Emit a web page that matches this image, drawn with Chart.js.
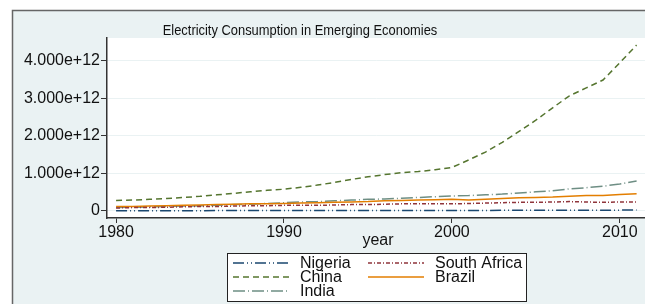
<!DOCTYPE html>
<html>
<head>
<meta charset="utf-8">
<script src="https://cdn.jsdelivr.net/npm/chart.js@4.4.1/dist/chart.umd.min.js"></script>
<style>
html,body{margin:0;padding:0;background:#fff;}
#wrap{width:645px;height:304px;position:relative;}
</style>
</head>
<body>
<div id="wrap"><canvas id="c" width="645" height="304"></canvas></div>
<script>
const years = [1980,1981,1982,1983,1984,1985,1986,1987,1988,1989,1990,1991,1992,1993,1994,1995,1996,1997,1998,1999,2000,2001,2002,2003,2004,2005,2006,2007,2008,2009,2010,2011];
const nigeria = [0.007e12,0.008e12,0.008e12,0.008e12,0.009e12,0.009e12,0.010e12,0.010e12,0.011e12,0.011e12,0.011e12,0.012e12,0.012e12,0.012e12,0.012e12,0.012e12,0.012e12,0.012e12,0.012e12,0.012e12,0.013e12,0.013e12,0.015e12,0.017e12,0.018e12,0.019e12,0.020e12,0.020e12,0.019e12,0.019e12,0.023e12,0.024e12];
const southAfrica = [0.08e12,0.09e12,0.09e12,0.10e12,0.11e12,0.12e12,0.12e12,0.13e12,0.14e12,0.14e12,0.15e12,0.15e12,0.15e12,0.16e12,0.17e12,0.17e12,0.18e12,0.19e12,0.19e12,0.19e12,0.19e12,0.20e12,0.21e12,0.22e12,0.23e12,0.23e12,0.24e12,0.25e12,0.24e12,0.23e12,0.24e12,0.24e12];
const china = [0.28e12,0.29e12,0.31e12,0.33e12,0.36e12,0.39e12,0.43e12,0.47e12,0.51e12,0.55e12,0.58e12,0.63e12,0.69e12,0.76e12,0.84e12,0.91e12,0.97e12,1.02e12,1.05e12,1.10e12,1.16e12,1.36e12,1.57e12,1.83e12,2.12e12,2.42e12,2.75e12,3.07e12,3.28e12,3.49e12,3.95e12,4.42e12];
const brazil = [0.12e12,0.12e12,0.13e12,0.14e12,0.15e12,0.16e12,0.17e12,0.18e12,0.19e12,0.19e12,0.20e12,0.21e12,0.22e12,0.23e12,0.24e12,0.25e12,0.27e12,0.28e12,0.29e12,0.30e12,0.31e12,0.29e12,0.31e12,0.33e12,0.35e12,0.36e12,0.37e12,0.39e12,0.41e12,0.41e12,0.44e12,0.46e12];
const india = [0.09e12,0.10e12,0.11e12,0.12e12,0.13e12,0.14e12,0.15e12,0.17e12,0.18e12,0.20e12,0.22e12,0.24e12,0.25e12,0.27e12,0.29e12,0.31e12,0.32e12,0.34e12,0.36e12,0.38e12,0.40e12,0.41e12,0.43e12,0.45e12,0.48e12,0.51e12,0.54e12,0.59e12,0.62e12,0.66e12,0.72e12,0.80e12];
const yTicks = [0,1e12,2e12,3e12,4e12];
const xTicks = [1980,1990,2000,2010];
const titleText = "Electricity Consumption in Emerging Economies";
const xTitle = "year";

const series = [
  {label:"Nigeria", data:nigeria, color:"rgb(26,71,111)", dash:[11,3,1,3,1,3]},
  {label:"South Africa", data:southAfrica, color:"rgb(144,53,59)", dash:[4,2,1,2]},
  {label:"China", data:china, color:"rgb(85,117,47)", dash:[6,4]},
  {label:"Brazil", data:brazil, color:"rgb(227,126,0)", dash:[]},
  {label:"India", data:india, color:"rgb(110,142,132)", dash:[12,3,1,3]}
];
const FONT = "'Liberation Sans', Arial, sans-serif";

const bgPlugin = {
  id:'bg',
  beforeDraw(chart){
    const ctx = chart.ctx, a = chart.chartArea;
    ctx.save();
    ctx.fillStyle = '#fff';
    ctx.fillRect(0,0,chart.width,chart.height);
    ctx.fillStyle = 'rgb(234,242,243)';
    ctx.fillRect(12,10,chart.width-12,chart.height-10);
    ctx.strokeStyle = '#666';
    ctx.lineWidth = 1.5;
    ctx.beginPath();
    ctx.moveTo(12.5,chart.height);
    ctx.lineTo(12.5,10.5);
    ctx.lineTo(chart.width,10.5);
    ctx.stroke();
    ctx.fillStyle = '#fff';
    ctx.fillRect(a.left,a.top,a.right-a.left,a.bottom-a.top);
    ctx.fillStyle = '#111';
    ctx.font = "16px " + FONT;
    ctx.textAlign = 'center';
    ctx.textBaseline = 'alphabetic';
    ctx.fillText(xTitle, 378, 245);
    ctx.save();
    ctx.translate(300, 35);
    ctx.scale(0.86, 1);
    ctx.font = "15px " + FONT;
    ctx.fillText(titleText, 0, 0);
    ctx.restore();
    ctx.restore();
  },
  afterDraw(chart){
    const ctx = chart.ctx;
    ctx.save();
    ctx.fillStyle = '#fff';
    ctx.fillRect(227,253,300,49);
    ctx.strokeStyle = '#222';
    ctx.lineWidth = 1;
    ctx.strokeRect(227.5,253.5,299,48);
    const pos = [[233,300,263],[368,435,263],[233,300,277],[368,435,277],[233,300,291]];
    const order = [0,1,2,3,4];
    order.forEach((si,i)=>{
      const s = series[si], p = pos[i];
      ctx.strokeStyle = s.color;
      ctx.lineWidth = 1.5;
      ctx.setLineDash(s.dash);
      ctx.beginPath();
      ctx.moveTo(p[0],p[2]);
      ctx.lineTo(p[0]+56,p[2]);
      ctx.stroke();
      ctx.setLineDash([]);
      ctx.fillStyle = '#111';
      ctx.font = "16px " + FONT;
      ctx.textAlign = 'left';
      ctx.textBaseline = 'alphabetic';
      ctx.fillText(s.label, p[1], p[2]+5);
    });
    ctx.restore();
  }
};

new Chart(document.getElementById('c'), {
  type:'line',
  data:{
    datasets: series.map(s=>({
      label:s.label,
      data:years.map((y,i)=>({x:y,y:s.data[i]})),
      borderColor:s.color,
      borderDash:s.dash,
      borderWidth:1.5,
      pointRadius:0,
      fill:false,
      tension:0
    }))
  },
  options:{
    responsive:false,
    animation:false,
    layout:{padding:{top:38,left:0,right:0,bottom:0}},
    plugins:{legend:{display:false},title:{display:false},tooltip:{enabled:false}},
    scales:{
      x:{
        type:'linear', min:1979.46, max:2011.5,
        afterBuildTicks(sc){ sc.ticks = xTicks.map(v=>({value:v})); },
        afterFit(sc){ sc.height = 86; },
        grid:{drawOnChartArea:false, tickColor:'#333', tickLength:5, tickWidth:1},
        border:{color:'#333', width:1.5},
        ticks:{color:'#111', font:{family:FONT, size:16}, padding:0, maxRotation:0,
               callback:v=>String(v)}
      },
      y:{
        type:'linear', min:-0.187e12, max:4.61e12,
        afterBuildTicks(sc){ sc.ticks = yTicks.map(v=>({value:v})); },
        afterFit(sc){ sc.width = 107; },
        grid:{color:'rgb(234,242,243)', lineWidth:1, tickColor:'#333', tickLength:6},
        border:{color:'#333', width:1.5},
        ticks:{color:'#111', font:{family:FONT, size:16}, padding:1,
               callback:v=> v===0 ? '0' : (v/1e12).toFixed(3)+'e+12'}
      }
    }
  },
  plugins:[bgPlugin]
});
</script>
</body>
</html>
